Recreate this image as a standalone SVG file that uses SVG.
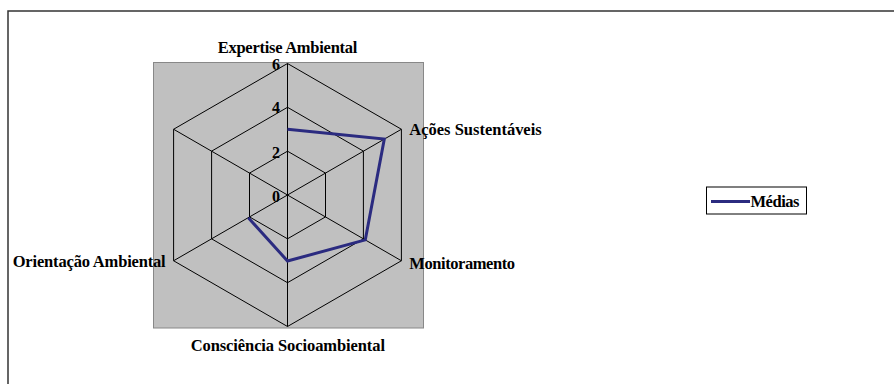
<svg xmlns="http://www.w3.org/2000/svg" width="894" height="384" viewBox="0 0 894 384">
<style>
.lbl{font-family:"Liberation Serif","Times New Roman",serif;font-weight:bold;font-size:16.5px;fill:#000}
.tick{font-family:"Liberation Serif","Times New Roman",serif;font-weight:bold;font-size:16px;fill:#000;text-anchor:end}
.grid{fill:none;stroke:#000;stroke-width:1}
.series{fill:none;stroke:#2B2B80;stroke-width:3;stroke-linejoin:miter}
</style>
<rect x="0" y="0" width="894" height="384" fill="#fff"/>
<g id="frame">
<rect x="8" y="11" width="900" height="400" fill="#fff" stroke="#333" stroke-width="1.5"/>
</g>
<g id="plot-area">
<rect x="153.5" y="62.5" width="270" height="265.5" fill="#C0C0C0" stroke="#888" stroke-width="1"/>
</g>
<g id="grid">
<polygon class="grid" points="287.5,63.5 401.4,129.25 401.4,260.75 287.5,326.5 173.6,260.75 173.6,129.25"/>
<polygon class="grid" points="287.5,107.3 363.4,151.15 363.4,238.85 287.5,282.7 211.6,238.85 211.6,151.15"/>
<polygon class="grid" points="287.5,151.2 325.5,173.1 325.5,216.9 287.5,238.8 249.5,216.9 249.5,173.1"/>
<line class="grid" x1="287.5" y1="195" x2="287.5" y2="63.5"/>
<line class="grid" x1="287.5" y1="195" x2="401.4" y2="129.25"/>
<line class="grid" x1="287.5" y1="195" x2="401.4" y2="260.75"/>
<line class="grid" x1="287.5" y1="195" x2="287.5" y2="326.5"/>
<line class="grid" x1="287.5" y1="195" x2="173.6" y2="260.75"/>
<line class="grid" x1="287.5" y1="195" x2="173.6" y2="129.25"/>
</g>
<g id="ticks">
<text class="tick" x="280" y="70">6</text>
<text class="tick" x="280" y="113">4</text>
<text class="tick" x="280" y="157.5">2</text>
<text class="tick" x="280" y="201.5">0</text>
</g>
<g id="axis-labels">
<g id="expertise"><text class="lbl" x="217.7" y="52.5" textLength="139.7">Expertise Ambiental</text></g>
<g id="acoes"><text class="lbl" x="409.3" y="135" textLength="132.4">Ações Sustentáveis</text></g>
<g id="monitoramento"><text class="lbl" x="409.3" y="269.3" textLength="105.7">Monitoramento</text></g>
<g id="consciencia"><text class="lbl" x="190.7" y="350.7" textLength="194.3">Consciência Socioambiental</text></g>
<g id="orientacao"><text class="lbl" x="12.7" y="267.3" textLength="153">Orientação Ambiental</text></g>
</g>
<g id="connectors">
<polyline class="series" points="287.5,129.25 384.3,139.1 365.3,239.9 287.5,261 248.3,217.7"/>
</g>
<g id="legend">
<rect x="706.5" y="187" width="100" height="27" fill="#fff" stroke="#000" stroke-width="1"/>
<line x1="711" y1="201.5" x2="750" y2="201.5" stroke="#2B2B80" stroke-width="3"/>
<text class="lbl" x="750.5" y="207.3" textLength="49">Médias</text>
</g>
</svg>
